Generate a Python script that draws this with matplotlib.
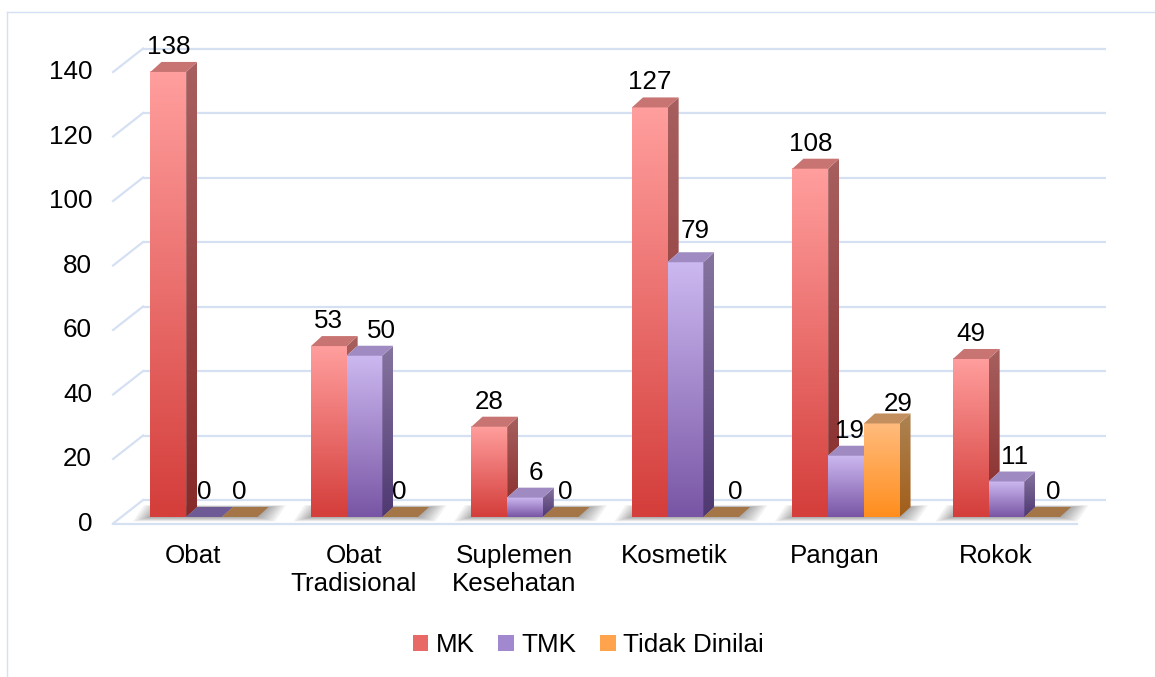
import numpy as np
import matplotlib
matplotlib.use('Agg')
import matplotlib.pyplot as plt
from matplotlib.patches import Polygon, Patch
from matplotlib.colors import to_rgb
from matplotlib.lines import Line2D

plt.rcParams['font.family'] = ['Liberation Sans', 'DejaVu Sans']

categories = ['Obat', 'Obat\nTradisional', 'Suplemen\nKesehatan', 'Kosmetik', 'Pangan', 'Rokok']
series_names = ['MK', 'TMK', 'Tidak Dinilai']
mk = [138, 53, 28, 127, 108, 49]
tmk = [0, 50, 6, 79, 19, 11]
tidak = [0, 0, 0, 0, 29, 0]
y_ticks = [0, 20, 40, 60, 80, 100, 120, 140]

series = [mk, tmk, tidak]

# front top/bottom, side top/bottom, top face, flat (zero) face, legend colour
styles = [
    dict(ft='#FF9E9D', fb='#D43E3B', st='#A7605F', sb='#872A2A', top='#C77472', flat='#8A3A3A', leg='#E86966'),
    dict(ft='#CCB8F0', fb='#7956A5', st='#86749F', sb='#4E3971', top='#9F8BC1', flat='#6E5A95', leg='#A288CF'),
    dict(ft='#FFBB7C', fb='#FF8E1E', st='#AD8352', sb='#A25E1A', top='#C48F5E', flat='#A47547', leg='#FFA34C'),
]

# label nudges in pixels (Excel's 3D label placement)
nudge_x = [[0, 0, 0, 0, 0, 0], [0, 17, 11, 10, 4, 8], [0, -1, 5, 14, 16, 11]]
nudge_y = [[0, 0, 0, 0, 0, 0], [0, 0, 0, 6, 0, 0], [0, 0, 0, 0, -6, 0]]

fs = 18.7
grid_c = '#D5E1F3'
W, H = 1155, 677
fig = plt.figure(figsize=(W / 100, H / 100), dpi=100)

ax_l, ax_r, ax_t, ax_b = 104.5, 1106.0, 39.7, 529.9
ax = fig.add_axes([ax_l / W, 1 - ax_b / H, (ax_r - ax_l) / W, (ax_b - ax_t) / H])
xlim = (-0.62, 5.62)
ylim = (-4, 148)
ax.set_xlim(*xlim)
ax.set_ylim(*ylim)
ax.axis('off')

ux = (xlim[1] - xlim[0]) / (ax_r - ax_l)
uy = (ylim[1] - ylim[0]) / (ax_b - ax_t)

bw = 35.7 * ux
ddx, ddy = 11 * ux, 10 * uy
front = (-7 * ux, -6.5 * uy)
back = (23 * ux, 17 * uy)
xl, xr = -0.523, 5.483

# walls / gridlines
for v in y_ticks:
    ax.plot([xl + back[0], xr + back[0]], [v + back[1]] * 2, color=grid_c, lw=1.6, zorder=1,
            solid_capstyle='butt')
    ax.plot([xl + front[0], xl + back[0]], [v + front[1], v + back[1]], color=grid_c, lw=1.6, zorder=1)
    ax.text(xl + front[0] - 21 * ux, v + front[1] - 0.5 * uy, str(v), ha='right', va='center',
            fontsize=fs, color='black')
ax.plot([xl + front[0], xr + front[0]], [front[1]] * 2, color=grid_c, lw=1.6, zorder=1)


def grad(c_top, c_bot, n=64):
    t = np.linspace(0, 1, n)[:, None]
    a = np.array(to_rgb(c_bot))
    b = np.array(to_rgb(c_top))
    return (a + (b - a) * t)[:, None, :]


x = np.arange(len(categories))
for i in x:
    g0 = i - 1.5 * bw
    g1 = i + 1.5 * bw
    # soft floor shadow
    for k in range(7):
        e = (k + 1) * 2.5
        pts = [(g0 - e * ux, -e * 0.25 * uy), (g1 + e * ux, -e * 0.25 * uy),
               (g1 + ddx + e * ux, ddy + e * 0.1 * uy), (g0 + ddx - e * ux, ddy + e * 0.1 * uy)]
        ax.add_patch(Polygon(pts, closed=True, facecolor='black', edgecolor='none', alpha=0.05, zorder=2))

    for s, vals in enumerate(series):
        st = styles[s]
        v = vals[i]
        x0 = i + (s - 1.5) * bw
        x1 = x0 + bw
        z = 3 + s * 0.1
        if v > 0:
            ax.imshow(grad(st['ft'], st['fb']), extent=[x0, x1, 0, v], origin='lower', aspect='auto',
                      zorder=z, interpolation='bilinear')
            nxt = series[s + 1][i] if s + 1 < len(series) else 0
            lo = min(nxt, v)
            if lo < v:
                side = Polygon([(x1, lo), (x1, v), (x1 + ddx, v + ddy), (x1 + ddx, lo + ddy)], closed=True,
                               facecolor='none', edgecolor='none', zorder=z)
                ax.add_patch(side)
                im = ax.imshow(grad(st['st'], st['sb']), extent=[x1, x1 + ddx, 0, v + ddy], origin='lower',
                               aspect='auto', zorder=z + 0.01, interpolation='bilinear')
                im.set_clip_path(side)
            topc = st['top']
        else:
            topc = st['flat']
        ax.add_patch(Polygon([(x0, v), (x1, v), (x1 + ddx, v + ddy), (x0 + ddx, v + ddy)], closed=True,
                             facecolor=topc, edgecolor='none', zorder=z + 0.02))
        ax.text(x0 + bw / 2 + nudge_x[s][i] * ux, v + ddy + (8 + nudge_y[s][i]) * uy, str(v),
                ha='center', va='baseline', fontsize=fs, zorder=10)

    ax.text(i - 11 * ux, -8.3, categories[i], ha='center', va='top', fontsize=fs, linespacing=1.22,
            clip_on=False)

handles = [Patch(facecolor=styles[s]['leg'], edgecolor='none') for s in range(3)]
fig.legend(handles, series_names, loc='center', bbox_to_anchor=(588.5 / W, 1 - 645 / H), ncol=3,
           frameon=False, fontsize=fs, handlelength=0.6, handleheight=0.6, handletextpad=0.3,
           columnspacing=0.9, borderpad=0)

# outer chart frame
fig.add_artist(Line2D([7 / W, 1], [1 - 12 / H, 1 - 12 / H], transform=fig.transFigure, color=grid_c, lw=1))
fig.add_artist(Line2D([7 / W, 7 / W], [0, 1 - 12 / H], transform=fig.transFigure, color=grid_c, lw=1))

fig.savefig('out.png', dpi=100)
